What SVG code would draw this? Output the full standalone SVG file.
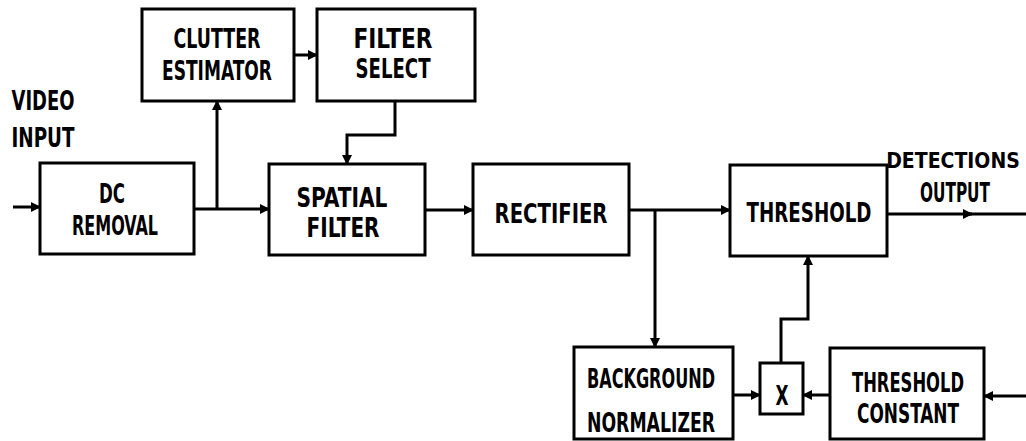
<svg xmlns="http://www.w3.org/2000/svg" width="1026" height="441" viewBox="0 0 1026 441">
<style>
.box{fill:#fff;stroke:#000;stroke-width:3}
.w{fill:none;stroke:#000;stroke-width:3}
text{font-family:"DejaVu Sans Condensed","Liberation Sans",sans-serif;font-stretch:condensed;font-weight:bold;font-size:26px;fill:#000;text-anchor:middle}
.sm{font-size:21px}
</style>
<defs>
<marker id="ah" viewBox="0 0 10 10" refX="9" refY="5" markerWidth="10" markerHeight="10" markerUnits="userSpaceOnUse" orient="auto">
<path d="M0,0 L10,5 L0,10 Z" fill="#000"/>
</marker>
</defs>
<rect width="1026" height="441" fill="#fff"/>
<g id="labels">
<text x="43" y="110" textLength="63" lengthAdjust="spacingAndGlyphs">VIDEO</text>
<text x="43" y="147" textLength="63" lengthAdjust="spacingAndGlyphs">INPUT</text>
<text class="sm" x="953" y="168">DETECTIONS</text>
<text x="955" y="202" textLength="70" lengthAdjust="spacingAndGlyphs">OUTPUT</text>
</g>
<g id="connectors">
<path class="w" d="M13,207 L40,207" marker-end="url(#ah)"/>
<path class="w" d="M194,209 L269,209" marker-end="url(#ah)"/>
<path class="w" d="M217,209 L217,101" marker-end="url(#ah)"/>
<path class="w" d="M294,55 L317,55" marker-end="url(#ah)"/>
<path class="w" d="M395,101 L395,135 L347,135 L347,164" marker-end="url(#ah)"/>
<path class="w" d="M425,210 L473,210" marker-end="url(#ah)"/>
<path class="w" d="M629,210 L730,210" marker-end="url(#ah)"/>
<path class="w" d="M655,210 L655,347" marker-end="url(#ah)"/>
<path class="w" d="M887,214 L972,214" marker-end="url(#ah)"/>
<path class="w" d="M968,214 L1026,214"/>
<path class="w" d="M733,395 L760,395" marker-end="url(#ah)"/>
<path class="w" d="M830,395 L803,395" marker-end="url(#ah)"/>
<path class="w" d="M781,363 L781,319 L808,319 L808,256" marker-end="url(#ah)"/>
<path class="w" d="M1026,396 L984,396" marker-end="url(#ah)"/>
</g>
<g id="dc-removal">
<rect class="box" x="40" y="163" width="154" height="91"/>
<text x="112" y="203" textLength="26" lengthAdjust="spacingAndGlyphs">DC</text>
<text x="115" y="235" textLength="86" lengthAdjust="spacingAndGlyphs">REMOVAL</text>
</g>
<g id="clutter-estimator">
<rect class="box" x="142" y="9" width="152" height="92"/>
<text x="217" y="48" textLength="87" lengthAdjust="spacingAndGlyphs">CLUTTER</text>
<text x="217" y="80" textLength="110" lengthAdjust="spacingAndGlyphs">ESTIMATOR</text>
</g>
<g id="filter-select">
<rect class="box" x="317" y="9" width="158" height="92"/>
<text x="393" y="48" textLength="79" lengthAdjust="spacingAndGlyphs">FILTER</text>
<text x="393" y="78" textLength="75" lengthAdjust="spacingAndGlyphs">SELECT</text>
</g>
<g id="spatial-filter">
<rect class="box" x="269" y="164" width="156" height="91"/>
<text x="342" y="207" textLength="91" lengthAdjust="spacingAndGlyphs">SPATIAL</text>
<text x="343" y="237" textLength="73" lengthAdjust="spacingAndGlyphs">FILTER</text>
</g>
<g id="rectifier">
<rect class="box" x="473" y="164" width="156" height="91"/>
<text x="551" y="223" textLength="113" lengthAdjust="spacingAndGlyphs">RECTIFIER</text>
</g>
<g id="threshold">
<rect class="box" x="730" y="165" width="157" height="91"/>
<text x="809" y="222" textLength="125" lengthAdjust="spacingAndGlyphs">THRESHOLD</text>
</g>
<g id="background-normalizer">
<rect class="box" x="574" y="347" width="159" height="92"/>
<text x="651" y="388" textLength="128" lengthAdjust="spacingAndGlyphs">BACKGROUND</text>
<text x="651" y="432" textLength="128" lengthAdjust="spacingAndGlyphs">NORMALIZER</text>
</g>
<g id="multiplier">
<rect class="box" x="760" y="363" width="43" height="51"/>
<text x="782" y="405" textLength="13" lengthAdjust="spacingAndGlyphs">X</text>
</g>
<g id="threshold-constant">
<rect class="box" x="830" y="348" width="154" height="91"/>
<text x="908" y="392" textLength="112" lengthAdjust="spacingAndGlyphs">THRESHOLD</text>
<text x="908" y="423" textLength="102" lengthAdjust="spacingAndGlyphs">CONSTANT</text>
</g>
</svg>
